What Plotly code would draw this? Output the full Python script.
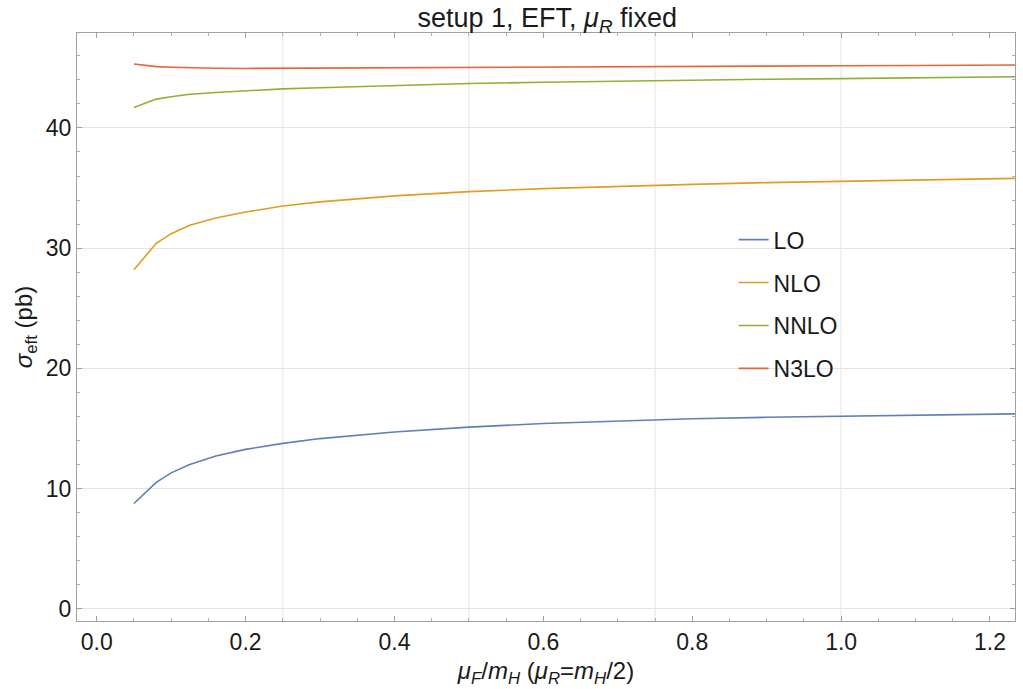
import plotly.graph_objects as go

mu_f = [0.05, 0.08, 0.1, 0.125, 0.16, 0.2, 0.25, 0.3, 0.4, 0.5, 0.6, 0.7, 0.8, 0.9, 1.0, 1.1, 1.25]
lo = [8.75, 10.5, 11.3, 12.0, 12.7, 13.25, 13.75, 14.15, 14.7, 15.1, 15.4, 15.6, 15.8, 15.92, 16.02, 16.1, 16.22]
nlo = [28.2, 30.4, 31.2, 31.9, 32.5, 33.0, 33.5, 33.85, 34.35, 34.7, 34.95, 35.15, 35.3, 35.45, 35.55, 35.65, 35.82]
nnlo = [41.7, 42.4, 42.6, 42.8, 42.95, 43.1, 43.25, 43.35, 43.55, 43.7, 43.8, 43.9, 43.97, 44.05, 44.1, 44.15, 44.27]
n3lo = [45.32, 45.1, 45.05, 45.0, 44.97, 44.95, 44.96, 44.98, 45.0, 45.04, 45.07, 45.1, 45.12, 45.15, 45.17, 45.2, 45.24]

names = ["LO", "NLO", "NNLO", "N3LO"]
colors = ["#5E81B5", "#E19C24", "#8FB032", "#EB6235"]
grid_x = [0.25, 0.5, 0.75, 1.0]

FONT = "Liberation Sans, Arial"
TXT = "#1a1a1a"

fig = go.Figure()
for name, ys, c in zip(names, [lo, nlo, nnlo, n3lo], colors):
    fig.add_trace(go.Scatter(x=mu_f, y=ys, mode="lines", name=name,
                             line=dict(color=c, width=1.6), legendgroup=name))

for gx in grid_x:
    fig.add_shape(type="line", xref="x", yref="paper", x0=gx, x1=gx, y0=0, y1=1,
                  line=dict(color="#e3e3e3", width=1), layer="below")

axis_common = dict(showline=True, linecolor="#a0a0a0", linewidth=1, mirror="ticks",
                   ticks="inside", ticklen=5, tickcolor="#a0a0a0", zeroline=False,
                   tickfont=dict(family=FONT, size=23, color=TXT))

fig.update_xaxes(range=[-0.0265, 1.2336], tick0=0, dtick=0.2, tickformat=".1f",
                 showgrid=False,
                 minor=dict(ticks="inside", ticklen=3, tickcolor="#b0b0b0", dtick=0.05, showgrid=False),
                 title=dict(text="<i>μ</i><sub><i>F</i></sub>/<i>m</i><sub><i>H</i></sub> (<i>μ</i><sub><i>R</i></sub>=<i>m</i><sub><i>H</i></sub>/2)",
                            font=dict(family=FONT, size=24, color=TXT), standoff=8),
                 **axis_common)
fig.update_yaxes(range=[-1.03, 47.9], tick0=0, dtick=10, showgrid=True, gridcolor="#e3e3e3", gridwidth=1,
                 minor=dict(ticks="inside", ticklen=3, tickcolor="#b0b0b0", dtick=2, showgrid=False),
                 title=dict(text="<i>σ</i><sub>eft</sub> (pb)",
                            font=dict(family=FONT, size=24, color=TXT), standoff=6),
                 **axis_common)

fig.update_layout(
    width=1023, height=689,
    margin=dict(l=77, r=8, t=33, b=68),
    plot_bgcolor="white", paper_bgcolor="white",
    title=dict(text="setup 1, EFT, <i>μ</i><sub><i>R</i></sub> fixed", x=0.535, xanchor="center",
               y=0.974, yanchor="middle",
               font=dict(family=FONT, size=27, color=TXT)),
    legend=dict(x=0.70, y=0.685, xanchor="left", yanchor="top", bgcolor="rgba(0,0,0,0)",
                font=dict(family=FONT, size=23, color=TXT),
                traceorder="grouped", tracegroupgap=10, itemwidth=30),
    showlegend=True,
)

fig.write_html("out.html")
